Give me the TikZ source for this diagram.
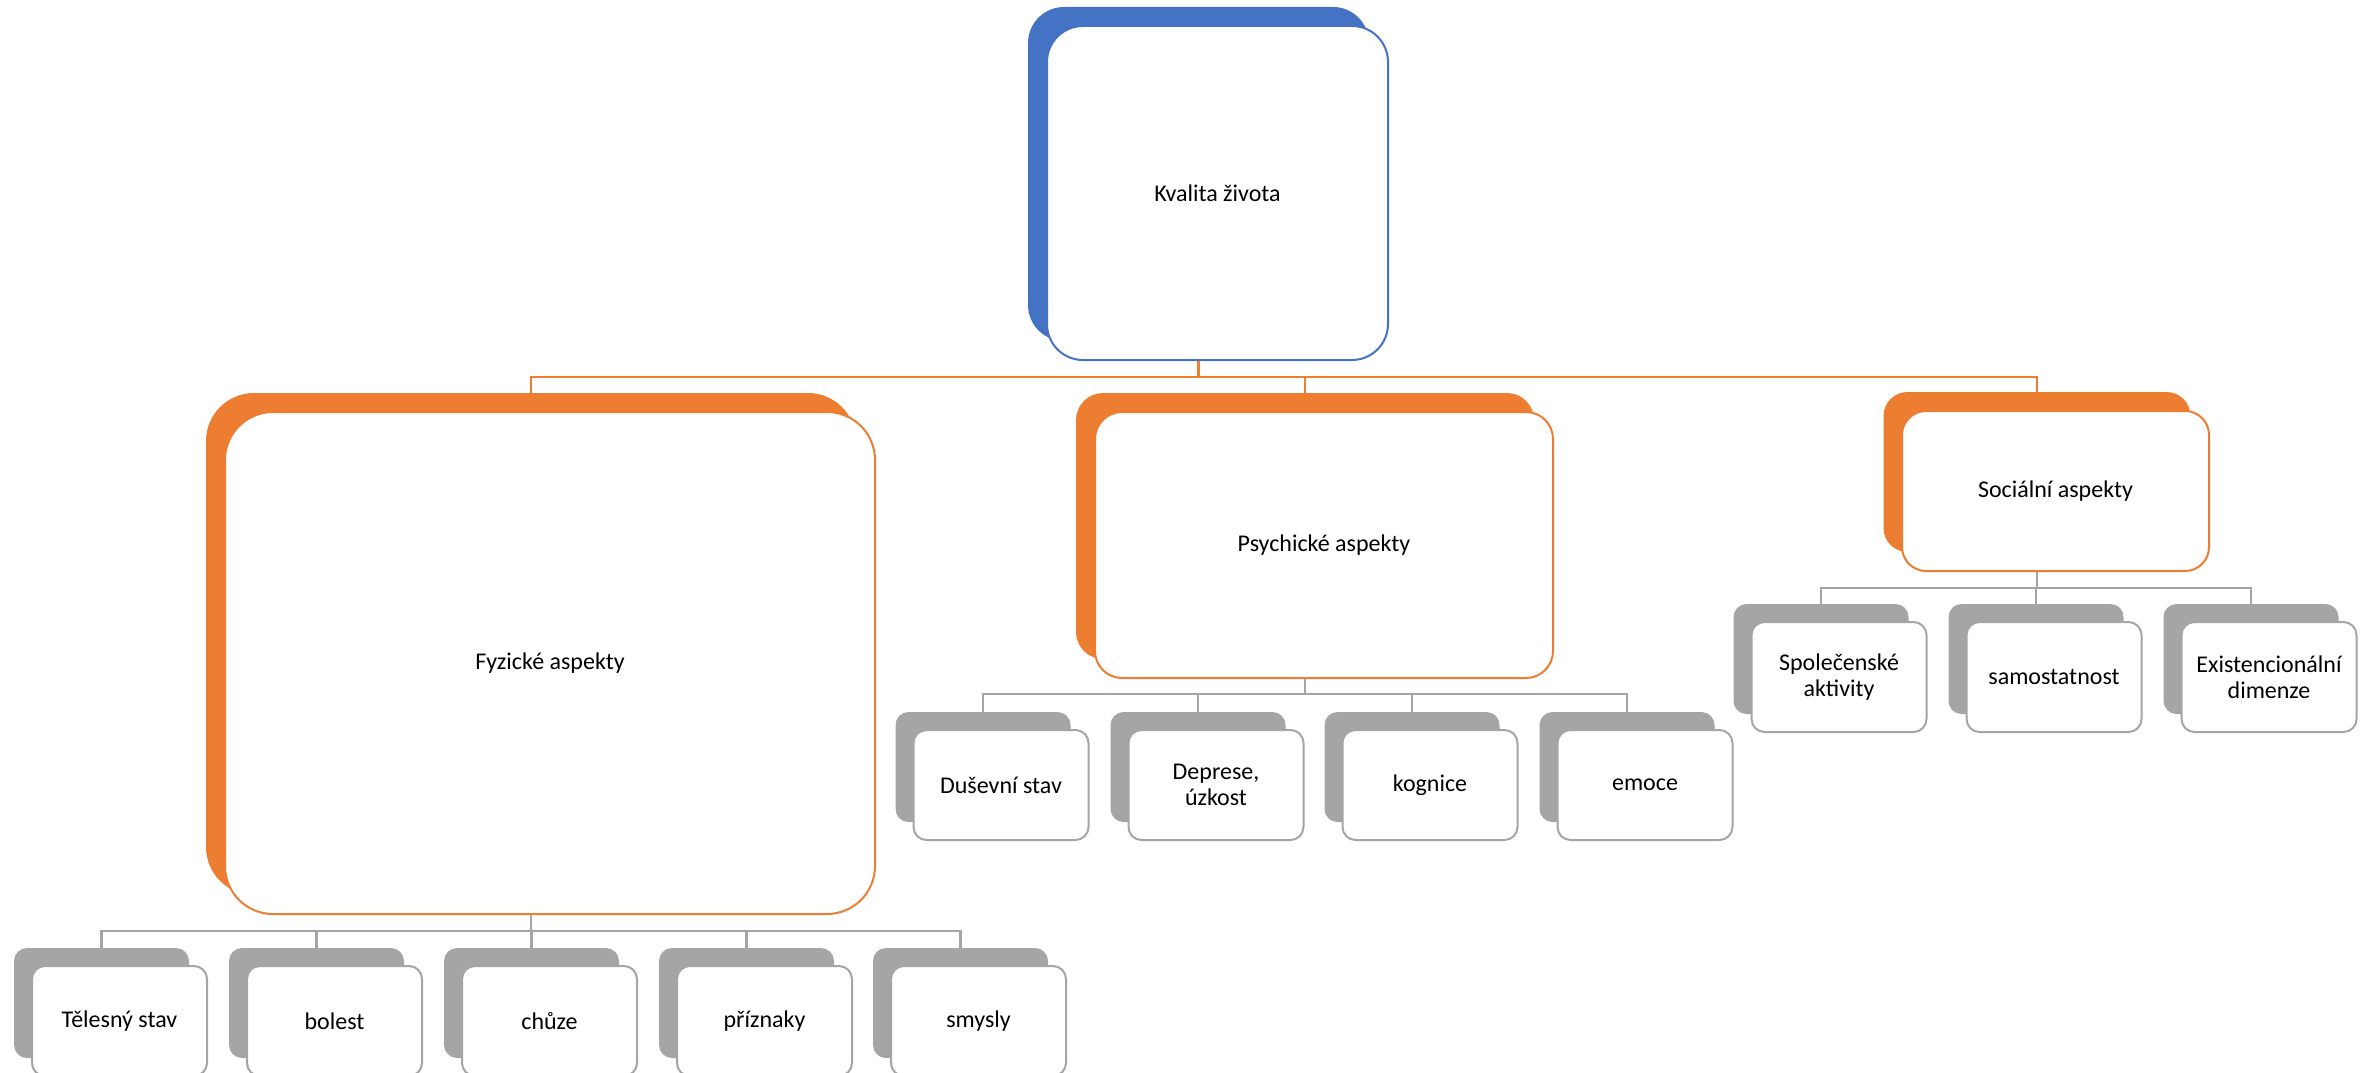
\documentclass[tikz,border=0pt]{standalone}
\usepackage{fontspec}
\setmainfont{Carlito}
\definecolor{blueC}{HTML}{4472C4}
\definecolor{orangeC}{HTML}{ED7D31}
\definecolor{greyC}{HTML}{A5A5A5}
\begin{document}
\begin{tikzpicture}[x=1pt,y=-1pt,font=\fontsize{24}{26}\selectfont,
  box/.style={rectangle, inner sep=0pt, align=center, text=black},
  bk/.style={box, fill=#1},
  fr/.style={box, fill=white, draw=#1, line width=2pt},
  lvA/.style={minimum width=341pt, minimum height=334pt, rounded corners=36pt},
  fyz/.style={minimum width=650pt, minimum height=502pt, rounded corners=48pt},
  psy/.style={minimum width=458pt, minimum height=266pt, rounded corners=27pt},
  soc/.style={minimum width=307pt, minimum height=160pt, rounded corners=24pt},
  leaf/.style={minimum width=175pt, minimum height=110pt, rounded corners=13pt},
  connO/.style={draw=orangeC, line width=2.5pt},
  connG/.style={draw=greyC, line width=2.5pt}]
\useasboundingbox (0,0) rectangle (2374,1073);
% root
\node[bk=blueC, lvA] (rootB) at (1198.5,174) {};
\node[fr=blueC, lvA] (rootF) at (1217.5,193) {Kvalita života};
% level 2
\node[bk=orangeC, fyz] (fyzB) at (531,644) {};
\node[fr=orangeC, fyz] (fyzF) at (550,663) {Fyzické aspekty};
\node[bk=orangeC, psy] (psyB) at (1305,526) {};
\node[fr=orangeC, psy] (psyF) at (1324,545) {Psychické aspekty};
\node[bk=orangeC, soc] (socB) at (2037,472) {};
\node[fr=orangeC, soc] (socF) at (2055.5,491) {Sociální aspekty};
% level 3 - fyzicke
\foreach \n/\x/\t in {f1/101.5/Tělesný stav, f2/316.5/bolest, f3/531.5/chůze, f4/746.5/příznaky, f5/960.5/smysly}{
  \node[bk=greyC, leaf] (\n B) at (\x,1003) {};
  \node[fr=greyC, leaf] (\n F) at (\x+18,1021) {\t};
}
% level 3 - psychicke
\foreach \n/\x/\t in {p1/983/Duševní stav, p2/1198/{Deprese,\\úzkost}, p3/1412/kognice, p4/1627/emoce}{
  \node[bk=greyC, leaf] (\n B) at (\x,767) {};
  \node[fr=greyC, leaf] (\n F) at (\x+18,785) {\t};
}
% level 3 - socialni
\foreach \n/\x/\t in {s1/1821/{Společenské\\aktivity}, s2/2036/samostatnost, s3/2251/{Existencionální\\dimenze}}{
  \node[bk=greyC, leaf] (\n B) at (\x,659) {};
  \node[fr=greyC, leaf] (\n F) at (\x+18,677) {\t};
}
% connectors
\foreach \c in {fyzB, psyB, socB}
  \draw[connO] (rootB |- rootF.south) -- ++(0,16) -| (\c.north);
\foreach \c in {f1B, f2B, f3B, f4B, f5B}
  \draw[connG] (fyzB |- fyzF.south) -- ++(0,16) -| (\c.north);
\foreach \c in {p1B, p2B, p3B, p4B}
  \draw[connG] (psyB |- psyF.south) -- ++(0,15) -| (\c.north);
\foreach \c in {s1B, s2B, s3B}
  \draw[connG] (socB |- socF.south) -- ++(0,16) -| (\c.north);
\end{tikzpicture}
\end{document}
